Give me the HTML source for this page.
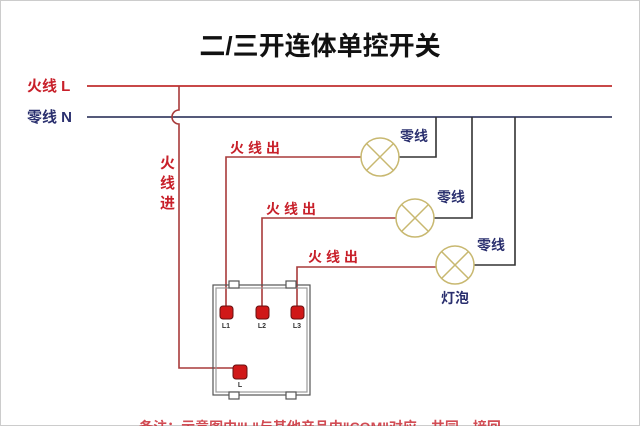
<!DOCTYPE html>
<html><head><meta charset="utf-8"><style>
body{margin:0;background:#fff;width:640px;height:426px;overflow:hidden}
svg text{font-family:"Liberation Sans","Noto Sans CJK SC",sans-serif;font-weight:bold}
</style></head><body>
<svg width="640" height="426" viewBox="0 0 640 426" xmlns="http://www.w3.org/2000/svg">
<rect x="0.5" y="0.5" width="639" height="425" fill="none" stroke="#ccc"/>
<text x="320" y="55" font-size="26" text-anchor="middle" fill="#111">二/三开连体单控开关</text>
<text x="27" y="91" font-size="15" fill="#c8202a">火线 L</text>
<text x="27" y="122" font-size="15" fill="#2a2f6e">零线 N</text>
<line x1="87" y1="86" x2="612" y2="86" stroke="#c84848" stroke-width="2"/>
<line x1="87" y1="117" x2="612" y2="117" stroke="#555a7a" stroke-width="2"/>
<path d="M179 86 V110 A7 7 0 0 0 179 124 V368 H233" fill="none" stroke="#a83a3a" stroke-width="1.6"/>
<text x="160" y="168" font-size="15" fill="#c8202a">火</text>
<text x="160" y="188" font-size="15" fill="#c8202a">线</text>
<text x="160" y="208" font-size="15" fill="#c8202a">进</text>
<g fill="none" stroke-width="1.6">
<path d="M226 306 V157 H361" stroke="#a83a3a"/>
<path d="M262 306 V218 H396" stroke="#a83a3a"/>
<path d="M297 306 V267 H436" stroke="#a83a3a"/>
<path d="M399 157 H436 V117 M434 218 H472 V117 M474 265 H515 V117" stroke="#333"/>
</g>
<text x="230" y="153" font-size="14" fill="#c8202a" letter-spacing="4">火线出</text>
<text x="266" y="214" font-size="14" fill="#c8202a" letter-spacing="4">火线出</text>
<text x="308" y="262" font-size="14" fill="#c8202a" letter-spacing="4">火线出</text>
<text x="400" y="141" font-size="14" fill="#2a2f6e">零线</text>
<text x="437" y="202" font-size="14" fill="#2a2f6e">零线</text>
<text x="477" y="250" font-size="14" fill="#2a2f6e">零线</text>
<text x="441" y="303" font-size="14" fill="#2a2f6e">灯泡</text>
<g stroke="#c8b870" stroke-width="1.5" fill="#fff">
<circle cx="380" cy="157" r="19"/><path d="M367 144 L393 170 M393 144 L367 170"/>
<circle cx="415" cy="218" r="19"/><path d="M402 205 L428 231 M428 205 L402 231"/>
<circle cx="455" cy="265" r="19"/><path d="M442 252 L468 278 M468 252 L442 278"/>
</g>
<g fill="none" stroke="#555" stroke-width="1.2">
<rect x="213" y="285" width="97" height="110"/>
<rect x="216" y="288" width="91" height="104" stroke="#999"/>
<rect x="229" y="281" width="10" height="7" fill="#fff"/><rect x="286" y="281" width="10" height="7" fill="#fff"/>
<rect x="229" y="392" width="10" height="7" fill="#fff"/><rect x="286" y="392" width="10" height="7" fill="#fff"/>
</g>
<g fill="#d01818" stroke="#611" stroke-width="1">
<rect x="220" y="306" width="13" height="13" rx="3"/>
<rect x="256" y="306" width="13" height="13" rx="3"/>
<rect x="291" y="306" width="13" height="13" rx="3"/>
<rect x="233" y="365" width="14" height="14" rx="3"/>
</g>
<g font-size="7" fill="#333" text-anchor="middle" font-weight="normal">
<text x="226" y="328">L1</text><text x="262" y="328">L2</text><text x="297" y="328">L3</text><text x="240" y="387">L</text>
</g>
<text x="320" y="432" font-size="14" fill="#c8202a" text-anchor="middle" opacity="0.8">备注：示意图中"L"与其他产品中"COM"对应，共同、接回</text>
</svg>
</body></html>
